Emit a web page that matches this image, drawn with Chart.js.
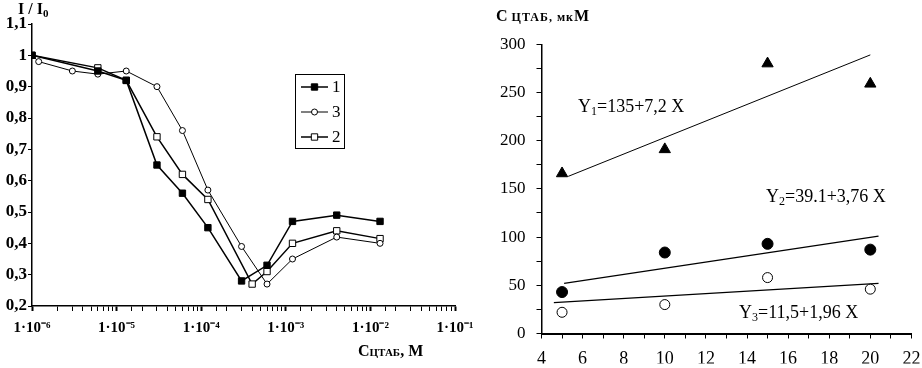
<!DOCTYPE html>
<html>
<head>
<meta charset="utf-8">
<script src="https://cdn.jsdelivr.net/npm/chart.js@4.4.1/dist/chart.umd.min.js"></script>
<style>
  html, body { margin: 0; padding: 0; background: #fff; }
  #wrap { position: relative; width: 922px; height: 368px; overflow: hidden;
          font-family: "Liberation Serif", "Times New Roman", serif; color: #000; }
  #left { position: absolute; left: 0; top: 0; }
  #right { position: absolute; left: 460px; top: 0; }
  .lbl { position: absolute; white-space: nowrap; line-height: 1; }
  .sub { font-size: 12px; vertical-align: -3px; }
</style>
</head>
<body>
<div id="wrap">
  <canvas id="left" width="480" height="368"></canvas>
  <canvas id="right" width="462" height="368"></canvas>

  <!-- подписи осей -->
  <div class="lbl" style="left:18px;top:1px;font-weight:bold;font-size:16px">I / I<span class="sub" style="font-size:11px">0</span></div>
  <div class="lbl" style="left:358px;top:343px;font-weight:bold;font-size:16px">C<span style="font-size:11px">ЦТАБ</span>, М</div>
  <div class="lbl" style="left:496px;top:8px;font-weight:bold;font-size:16px">C <span style="font-size:12px;letter-spacing:1px">ЦТАБ, мк</span>М</div>

  <!-- уравнения регрессии -->
  <div class="lbl" style="left:578px;top:97px;font-size:18px">Y<span class="sub">1</span>=135+7,2 X</div>
  <div class="lbl" style="left:766px;top:187px;font-size:18px">Y<span class="sub">2</span>=39.1+3,76 X</div>
  <div class="lbl" style="left:739px;top:303px;font-size:18px">Y<span class="sub">3</span>=11,5+1,96 X</div>
</div>

<script>
// ---- левый график: I/I0 от концентрации ЦТАБ (M) ----
const conc1 = [1e-6, 6e-6, 1.3e-5, 3e-5, 6e-5, 1.2e-4, 3e-4, 6e-4, 1.2e-3, 4e-3, 1.3e-2];
const ratio1 = [1.0, 0.95, 0.92, 0.65, 0.56, 0.45, 0.28, 0.33, 0.47, 0.49, 0.47];

const conc3 = [1e-6, 1.2e-6, 3e-6, 6e-6, 1.3e-5, 3e-5, 6e-5, 1.2e-4, 3e-4, 6e-4, 1.2e-3, 4e-3, 1.3e-2];
const ratio3 = [1.0, 0.98, 0.95, 0.94, 0.95, 0.90, 0.76, 0.57, 0.39, 0.27, 0.35, 0.42, 0.40];

const conc2 = [1e-6, 6e-6, 1.3e-5, 3e-5, 6e-5, 1.2e-4, 4e-4, 6e-4, 1.2e-3, 4e-3, 1.3e-2];
const ratio2 = [1.0, 0.96, 0.92, 0.74, 0.62, 0.54, 0.27, 0.31, 0.40, 0.44, 0.415];

const seriesNames = ['1', '3', '2'];

// ---- правый график: С ЦТАБ (мкМ) от X ----
const doseX = [5, 10, 15, 20];
const ctab1 = [166, 191, 280, 259];   // треугольники
const ctab2 = [43, 84, 93, 87];       // закрашенные кружки
const ctab3 = [22, 30, 58, 46];       // пустые кружки

// концы линий регрессии (как нарисованы)
const fit1X = [5.3, 20.0], fit1Y = [163, 289];
const fit2X = [5.1, 20.4], fit2Y = [52, 101];
const fit3X = [4.6, 20.4], fit3Y = [32, 52];

const FONT = '"Liberation Serif", "Times New Roman", serif';
Chart.defaults.font.family = FONT;
Chart.defaults.color = '#000';
Chart.defaults.animation = false;

const SUP = {'-': '⁻', '0': '⁰', '1': '¹', '2': '²', '3': '³', '4': '⁴', '5': '⁵', '6': '⁶', '7': '⁷', '8': '⁸', '9': '⁹'};
function expLabel(v) {
    const lg = Math.log10(v);
    const e = Math.round(lg);
    if (Math.abs(lg - e) > 1e-6) return '';
    return '1·10' + String(e).split('').map(c => SUP[c]).join('');
}

function pts(xs, ys) {
    return xs.map((x, i) => ({x: x, y: ys[i]}));
}

// легенда в рамке, как на оригинале
const boxLegend = {
    id: 'boxLegend',
    afterDatasetsDraw(chart) {
        const ctx = chart.ctx;
        const x0 = chart.chartArea.left + 263, y0 = chart.chartArea.top + 50;
        ctx.save();
        ctx.strokeStyle = '#000';
        ctx.lineWidth = 1;
        ctx.strokeRect(x0 + 0.5, y0 + 0.5, 49, 74);
        chart.data.datasets.forEach((ds, i) => {
            const cy = y0 + 13 + i * 25;
            ctx.beginPath();
            ctx.lineWidth = ds.borderWidth;
            ctx.moveTo(x0 + 6, cy);
            ctx.lineTo(x0 + 33, cy);
            ctx.stroke();
            ctx.lineWidth = 1;
            ctx.fillStyle = ds.pointBackgroundColor;
            ctx.beginPath();
            const mx = x0 + 19.5;
            if (ds.pointStyle === 'rect') {
                const s = ds.pointRadius * Math.SQRT1_2;
                ctx.rect(mx - s, cy - s, 2 * s, 2 * s);
            } else {
                ctx.arc(mx, cy, ds.pointRadius, 0, Math.PI * 2);
            }
            ctx.fill();
            ctx.stroke();
            ctx.fillStyle = '#000';
            ctx.font = '17px ' + FONT;
            ctx.textBaseline = 'middle';
            ctx.fillText(ds.label, x0 + 37, cy + 1);
        });
        ctx.restore();
    }
};

new Chart(document.getElementById('left'), {
    type: 'line',
    data: {
        datasets: [{
            label: seriesNames[0],
            data: pts(conc1, ratio1),
            borderColor: '#000', borderWidth: 1.5,
            pointStyle: 'rect', pointRadius: 4.5,
            pointBackgroundColor: '#000', pointBorderColor: '#000', pointBorderWidth: 1
        }, {
            label: seriesNames[1],
            data: pts(conc3, ratio3),
            borderColor: '#000', borderWidth: 1,
            pointStyle: 'circle', pointRadius: 3,
            pointBackgroundColor: '#fff', pointBorderColor: '#000', pointBorderWidth: 1
        }, {
            label: seriesNames[2],
            data: pts(conc2, ratio2),
            borderColor: '#000', borderWidth: 1.5,
            pointStyle: 'rect', pointRadius: 4.5,
            pointBackgroundColor: '#fff', pointBorderColor: '#000', pointBorderWidth: 1
        }]
    },
    options: {
        responsive: false,
        layout: { padding: { left: 0, right: 25, top: 24, bottom: 17 } },
        plugins: { legend: { display: false }, tooltip: { enabled: false } },
        scales: {
            x: {
                type: 'logarithmic', min: 1e-6, max: 1e-1,
                border: { color: '#000', width: 1.5 },
                grid: { drawOnChartArea: false, color: '#000', tickLength: 5,
                        tickWidth: c => (c.tick && c.tick.major) ? 2 : 1 },
                ticks: { autoSkip: false, maxRotation: 0, padding: 8, color: '#000',
                         font: { family: FONT, size: 15, weight: 'bold' },
                         callback: v => expLabel(v) },
                afterFit: s => { s.height = 45; s.paddingLeft = 0; s.paddingRight = 0; }
            },
            y: {
                min: 0.2, max: 1.1,
                border: { color: '#000', width: 1.5 },
                grid: { drawOnChartArea: false, color: '#000', tickLength: 4 },
                ticks: { stepSize: 0.1, padding: 1, color: '#000',
                         font: { family: FONT, size: 17, weight: 'bold' },
                         callback: v => String(Math.round(v * 10) / 10).replace('.', ',') },
                afterFit: s => { s.width = 32; s.paddingTop = 0; s.paddingBottom = 0; }
            }
        }
    },
    plugins: [boxLegend]
});

new Chart(document.getElementById('right'), {
    type: 'scatter',
    data: {
        datasets: [{
            data: pts(doseX, ctab1),
            pointStyle: 'triangle', pointRadius: 6.5,
            pointBackgroundColor: '#000', pointBorderColor: '#000', pointBorderWidth: 1
        }, {
            data: pts(doseX, ctab2),
            pointStyle: 'circle', pointRadius: 5.5,
            pointBackgroundColor: '#000', pointBorderColor: '#000', pointBorderWidth: 1
        }, {
            data: pts(doseX, ctab3),
            pointStyle: 'circle', pointRadius: 5,
            pointBackgroundColor: '#fff', pointBorderColor: '#000', pointBorderWidth: 1
        }, {
            data: pts(fit1X, fit1Y), showLine: true, pointRadius: 0,
            borderColor: '#000', borderWidth: 1
        }, {
            data: pts(fit2X, fit2Y), showLine: true, pointRadius: 0,
            borderColor: '#000', borderWidth: 1.3
        }, {
            data: pts(fit3X, fit3Y), showLine: true, pointRadius: 0,
            borderColor: '#000', borderWidth: 1.3
        }]
    },
    options: {
        responsive: false,
        layout: { padding: { left: 0, right: 10.6, top: 44.3, bottom: 4.5 } },
        plugins: { legend: { display: false }, tooltip: { enabled: false } },
        scales: {
            x: {
                type: 'linear', min: 4, max: 22,
                border: { color: '#000', width: 2 },
                grid: { drawOnChartArea: false, color: '#000', tickLength: 5 },
                ticks: { stepSize: 1, autoSkip: false, maxRotation: 0, padding: 10, color: '#000',
                         font: { family: FONT, size: 18 },
                         callback: v => (v % 2 === 0 ? String(v) : '') },
                afterFit: s => { s.height = 30; s.paddingLeft = 0; s.paddingRight = 0; }
            },
            y: {
                min: 0, max: 300,
                border: { color: '#000', width: 1.5 },
                grid: { drawOnChartArea: false, color: '#000', tickLength: 5 },
                ticks: { stepSize: 25, autoSkip: false, padding: 11, color: '#000',
                         font: { family: FONT, size: 17 },
                         callback: v => (v % 50 === 0 ? String(v) : '') },
                afterFit: s => { s.width = 81.5; s.paddingTop = 0; s.paddingBottom = 0; }
            }
        }
    }
});
</script>
</body>
</html>
